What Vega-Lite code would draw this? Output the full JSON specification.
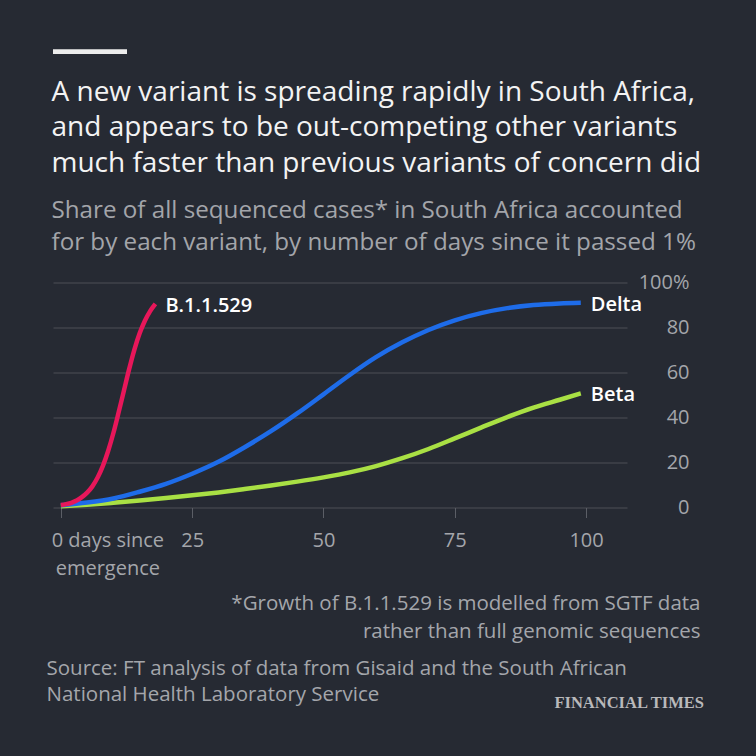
{
  "$schema": "https://vega.github.io/schema/vega-lite/v6.json",
  "background": "#262a33",
  "padding": {"left": 46, "top": 49.5, "right": 56, "bottom": 50},
  "bounds": "flush",
  "spacing": 228,
  "title": {
    "text": "FINANCIAL TIMES",
    "orient": "bottom",
    "anchor": "end",
    "font": "Liberation Serif",
    "fontSize": 16.5,
    "fontWeight": "bold",
    "color": "#b9b9bb",
    "offset": 0,
    "dx": 3,
    "dy": -10
  },
  "vconcat": [
    {
      "width": 74,
      "height": 4.5,
      "view": {"fill": "#ececec", "stroke": null},
      "data": {"values": [{}]},
      "mark": {"type": "rect", "color": "#ececec"},
      "encoding": {}
    },
    {
      "width": 574,
      "height": 225,
      "title": {
        "text": [
          "A new variant is spreading rapidly in South Africa,",
          "and appears to be out-competing other variants",
          "much faster than previous variants of concern did"
        ],
        "subtitle": [
          "Share of all sequenced cases* in South Africa accounted",
          "for by each variant, by number of days since it passed 1%"
        ],
        "anchor": "start",
        "frame": "group",
        "font": "Open Sans",
        "fontSize": 28,
        "fontWeight": "normal",
        "color": "#f3f3f3",
        "lineHeight": 35.5,
        "dx": -1.5,
        "subtitleFont": "Open Sans",
        "subtitleFontSize": 24.2,
        "subtitleColor": "#a3a5aa",
        "subtitleLineHeight": 32,
        "subtitlePadding": 21,
        "offset": 17.5
      },
      "data": {
        "values": [
          {"variant": "Beta", "day": 0, "share": 0.5},
          {"variant": "Beta", "day": 5, "share": 1.2},
          {"variant": "Beta", "day": 10, "share": 2.1},
          {"variant": "Beta", "day": 15, "share": 3.1},
          {"variant": "Beta", "day": 20, "share": 4.2},
          {"variant": "Beta", "day": 25, "share": 5.4},
          {"variant": "Beta", "day": 30, "share": 6.7},
          {"variant": "Beta", "day": 35, "share": 8.2},
          {"variant": "Beta", "day": 40, "share": 9.8},
          {"variant": "Beta", "day": 45, "share": 11.5},
          {"variant": "Beta", "day": 50, "share": 13.4},
          {"variant": "Beta", "day": 55, "share": 15.6},
          {"variant": "Beta", "day": 60, "share": 18.4},
          {"variant": "Beta", "day": 65, "share": 21.9},
          {"variant": "Beta", "day": 70, "share": 26.0},
          {"variant": "Beta", "day": 75, "share": 30.7},
          {"variant": "Beta", "day": 80, "share": 35.5},
          {"variant": "Beta", "day": 85, "share": 40.2},
          {"variant": "Beta", "day": 90, "share": 44.4},
          {"variant": "Beta", "day": 95, "share": 47.9},
          {"variant": "Beta", "day": 99, "share": 50.7},
          {"variant": "Delta", "day": 0, "share": 1.0},
          {"variant": "Delta", "day": 5, "share": 2.2},
          {"variant": "Delta", "day": 10, "share": 4.0},
          {"variant": "Delta", "day": 15, "share": 7.0},
          {"variant": "Delta", "day": 20, "share": 10.5},
          {"variant": "Delta", "day": 25, "share": 15.0},
          {"variant": "Delta", "day": 30, "share": 20.3},
          {"variant": "Delta", "day": 35, "share": 26.8},
          {"variant": "Delta", "day": 40, "share": 33.9},
          {"variant": "Delta", "day": 45, "share": 41.8},
          {"variant": "Delta", "day": 50, "share": 50.3},
          {"variant": "Delta", "day": 55, "share": 58.9},
          {"variant": "Delta", "day": 60, "share": 66.8},
          {"variant": "Delta", "day": 65, "share": 73.4},
          {"variant": "Delta", "day": 70, "share": 78.9},
          {"variant": "Delta", "day": 75, "share": 83.2},
          {"variant": "Delta", "day": 80, "share": 86.4},
          {"variant": "Delta", "day": 85, "share": 88.6},
          {"variant": "Delta", "day": 90, "share": 90.0},
          {"variant": "Delta", "day": 95, "share": 90.7},
          {"variant": "Delta", "day": 99, "share": 91.0},
          {"variant": "B.1.1.529", "day": 0, "share": 1.1},
          {"variant": "B.1.1.529", "day": 1, "share": 1.5},
          {"variant": "B.1.1.529", "day": 2, "share": 2.1},
          {"variant": "B.1.1.529", "day": 3, "share": 3.1},
          {"variant": "B.1.1.529", "day": 4, "share": 4.6},
          {"variant": "B.1.1.529", "day": 5, "share": 6.6},
          {"variant": "B.1.1.529", "day": 6, "share": 9.4},
          {"variant": "B.1.1.529", "day": 7, "share": 13.3},
          {"variant": "B.1.1.529", "day": 8, "share": 18.5},
          {"variant": "B.1.1.529", "day": 9, "share": 25.1},
          {"variant": "B.1.1.529", "day": 10, "share": 33.1},
          {"variant": "B.1.1.529", "day": 11, "share": 42.3},
          {"variant": "B.1.1.529", "day": 12, "share": 51.9},
          {"variant": "B.1.1.529", "day": 13, "share": 61.5},
          {"variant": "B.1.1.529", "day": 14, "share": 70.2},
          {"variant": "B.1.1.529", "day": 15, "share": 77.4},
          {"variant": "B.1.1.529", "day": 16, "share": 83.0},
          {"variant": "B.1.1.529", "day": 17, "share": 87.3},
          {"variant": "B.1.1.529", "day": 18, "share": 90.5}
        ]
      },
      "encoding": {
        "x": {
          "field": "day",
          "type": "quantitative",
          "scale": {"domain": [-1.5, 107.8], "nice": false, "zero": false},
          "axis": {
            "values": [0, 25, 50, 75, 100],
            "grid": false,
            "domain": false,
            "ticks": true,
            "tickSize": 10,
            "tickColor": "#5b5e66",
            "tickWidth": 1,
            "labelFont": "Open Sans",
            "labelFontSize": 20,
            "labelColor": "#a4a6ab",
            "labelPadding": 13,
            "labelFlush": false,
            "labelOverlap": false,
            "labelLineHeight": 28,
            "labelExpr": "datum.value === 0 ? ['0 days since', 'emergence'] : datum.label",
            "labelOffset": {"condition": {"test": "datum.value === 0", "value": 46.5}, "value": 0},
            "title": [
              "*Growth of B.1.1.529 is modelled from SGTF data",
              "rather than full genomic sequences"
            ],
            "titleFont": "Open Sans",
            "titleFontSize": 20.5,
            "titleFontWeight": "normal",
            "titleColor": "#a4a6ab",
            "titleAlign": "right",
            "titleAnchor": "end",
            "titleBaseline": "alphabetic",
            "titleLineHeight": 28,
            "titleX": 647,
            "titleY": 102
          }
        },
        "y": {
          "field": "share",
          "type": "quantitative",
          "scale": {"domain": [0, 100], "nice": false},
          "axis": {
            "orient": "right",
            "values": [0, 20, 40, 60, 80, 100],
            "grid": true,
            "gridColor": "#4c4f57",
            "gridWidth": 1,
            "domain": false,
            "ticks": false,
            "tickSize": 0,
            "labelFont": "Open Sans",
            "labelFontSize": 20,
            "labelColor": "#a4a6ab",
            "labelAlign": "right",
            "labelBaseline": "middle",
            "labelPadding": 62,
            "labelFlush": false,
            "labelOverlap": false,
            "labelExpr": "datum.value === 100 ? '100%' : datum.label",
            "title": [
              "Source: FT analysis of data from Gisaid and the South African",
              "National Health Laboratory Service"
            ],
            "titleFont": "Open Sans",
            "titleFontSize": 20.5,
            "titleFontWeight": "normal",
            "titleColor": "#a4a6ab",
            "titleAngle": 0,
            "titleAlign": "left",
            "titleBaseline": "alphabetic",
            "titleLineHeight": 26,
            "titleX": -581,
            "titleY": 391.5
          }
        }
      },
      "layer": [
        {
          "mark": {"type": "line", "strokeWidth": 4.5, "interpolate": "monotone", "strokeCap": "butt"},
          "encoding": {
            "color": {
              "field": "variant",
              "type": "nominal",
              "scale": {"domain": ["Beta", "Delta", "B.1.1.529"], "range": ["#a9e044", "#1e6ce9", "#e8175a"]},
              "legend": null
            }
          }
        },
        {
          "transform": [
            {"joinaggregate": [{"op": "max", "field": "day", "as": "last_day"}], "groupby": ["variant"]},
            {"filter": "datum.day === datum.last_day"}
          ],
          "mark": {
            "type": "text",
            "align": "left",
            "baseline": "middle",
            "dx": 10,
            "dy": 2,
            "font": "Open Sans",
            "fontSize": 20,
            "fontWeight": 600,
            "color": "#ffffff"
          },
          "encoding": {"text": {"field": "variant"}}
        }
      ]
    }
  ],
  "config": {
    "view": {"stroke": null},
    "font": "Open Sans"
  }
}
